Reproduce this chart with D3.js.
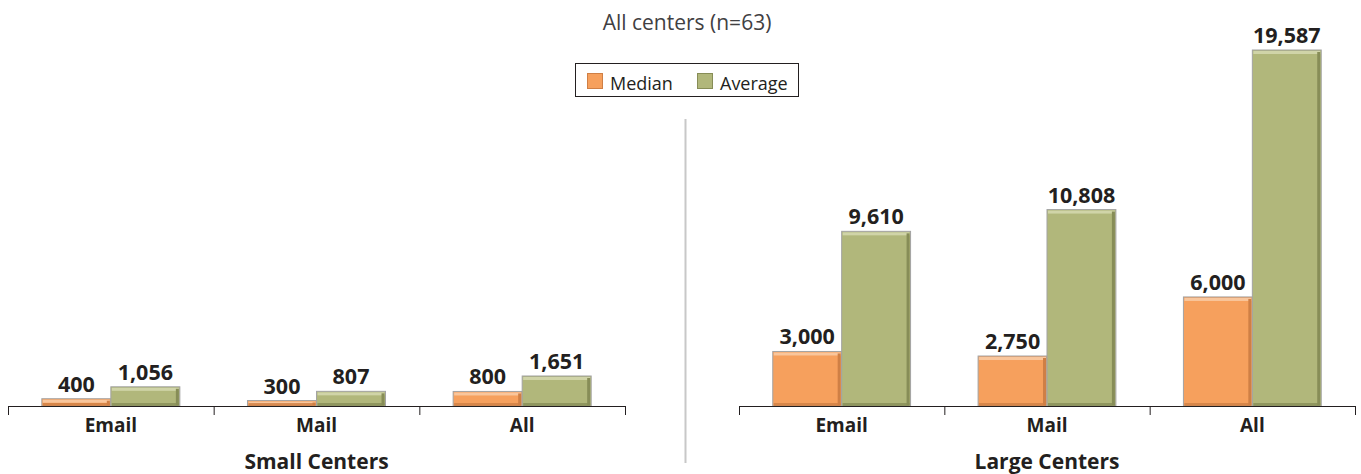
<!DOCTYPE html>
<html>
<head>
<meta charset="utf-8">
<script src="https://cdn.jsdelivr.net/npm/d3@7"></script>
<style>
  body { margin: 0; background: #fff; }
  svg { display: block; }
  text { font-family: "Open Sans", "Noto Sans", sans-serif; fill: #231f20; }
</style>
</head>
<body>
<svg id="chart" width="1361" height="474"></svg>
<script>
'use strict';

// values
const categories = ['Email', 'Mail', 'All'];
const series = ['Median', 'Average'];
const smallMedian = [400, 300, 800];
const smallAverage = [1056, 807, 1651];
const largeMedian = [3000, 2750, 6000];
const largeAverage = [9610, 10808, 19587];
const panelTitles = ['Small Centers', 'Large Centers'];
const subtitle = 'All centers (n=63)';

const colours = {
    'Median': {face: '#f6a05d', light: '#f9c69c', dark: '#cf7f45'},
    'Average': {face: '#b1b77b', light: '#d0d4a8', dark: '#878d57'}
};

const svg = d3.select('#chart');
const baseY = 406;

const y = d3.scaleLinear()
    .domain([0, 19587])
    .range([baseY, 50]);

function rows(medians, averages) {
    return categories.map((c, i) => ({cat: c, Median: medians[i], Average: averages[i]}));
}

function renderPanel(data, x0, x1, title) {

    let x = d3.scaleBand().domain(categories).range([x0, x1]);
    let xSub = d3.scaleBand().domain(series).range([0, x.bandwidth()]).paddingOuter(0.49);

    let g = svg.append('g');

    // bars, grouped by category
    let groups = g.selectAll('g.cat')
        .data(data)
        .enter()
        .append('g')
        .attr('class', 'cat')
        .attr('transform', (d) => `translate(${x(d.cat)},0)`);

    let bars = groups.selectAll('g.bar')
        .data((d) => series.map((s) => ({s: s, v: d[s]})))
        .enter()
        .append('g')
        .attr('class', 'bar');

    bars.append('rect')
        .attr('x', (d) => xSub(d.s))
        .attr('y', (d) => y(d.v))
        .attr('width', xSub.bandwidth())
        .attr('height', (d) => baseY - y(d.v))
        .attr('fill', (d) => colours[d.s].face)
        .attr('stroke', '#a3a3a3')
        .attr('stroke-width', 1);

    // bevel: light top, dark right & bottom
    bars.append('rect')
        .attr('x', (d) => xSub(d.s) + 1)
        .attr('y', (d) => y(d.v) + 1)
        .attr('width', xSub.bandwidth() - 2)
        .attr('height', (d) => Math.min(3, baseY - y(d.v) - 2))
        .attr('fill', (d) => colours[d.s].light);

    bars.append('rect')
        .attr('x', (d) => xSub(d.s) + xSub.bandwidth() - 4)
        .attr('y', (d) => y(d.v) + 2)
        .attr('width', 3)
        .attr('height', (d) => Math.max(0, baseY - y(d.v) - 3))
        .attr('fill', (d) => colours[d.s].dark);

    bars.append('rect')
        .attr('x', (d) => xSub(d.s) + 1)
        .attr('y', (d) => baseY - 3)
        .attr('width', xSub.bandwidth() - 2)
        .attr('height', 3)
        .attr('fill', (d) => colours[d.s].dark)
        .attr('opacity', 0.8);

    // value labels
    bars.append('text')
        .attr('x', (d) => xSub(d.s) + xSub.bandwidth() / 2)
        .attr('y', (d) => y(d.v) - 7)
        .attr('text-anchor', 'middle')
        .style('font-size', '21.5px')
        .style('font-weight', 'bold')
        .text((d) => d3.format(',')(d.v));

    // axis line + boundary ticks
    g.append('line')
        .attr('x1', x0).attr('x2', x1)
        .attr('y1', baseY + 0.5).attr('y2', baseY + 0.5)
        .attr('stroke', '#231f20')
        .attr('stroke-width', 1.2);

    let edges = categories.map((c) => x(c)).concat([x1]);
    g.selectAll('line.tick')
        .data(edges)
        .enter()
        .append('line')
        .attr('class', 'tick')
        .attr('x1', (d) => d + 0.5).attr('x2', (d) => d + 0.5)
        .attr('y1', baseY).attr('y2', baseY + 9)
        .attr('stroke', '#231f20');

    g.selectAll('text.cat')
        .data(categories)
        .enter()
        .append('text')
        .attr('class', 'cat')
        .attr('x', (d) => x(d) + x.bandwidth() / 2)
        .attr('y', 432)
        .attr('text-anchor', 'middle')
        .style('font-size', '19px')
        .style('font-weight', 'bold')
        .text((d) => d);

    g.append('text')
        .attr('x', (x0 + x1) / 2)
        .attr('y', 469)
        .attr('text-anchor', 'middle')
        .style('font-size', '21px')
        .style('font-weight', 'bold')
        .text(title);

    return;
}

// subtitle
svg.append('text')
    .attr('x', 687)
    .attr('y', 30)
    .attr('text-anchor', 'middle')
    .style('font-size', '21px')
    .style('fill', '#414042')
    .text(subtitle);

// legend
let legend = svg.append('g');
legend.append('rect')
    .attr('x', 575.5).attr('y', 63.5)
    .attr('width', 223).attr('height', 33)
    .attr('fill', '#fff')
    .attr('stroke', '#231f20');

let legendX = d3.scalePoint().domain(series).range([587, 697]);
let items = legend.selectAll('g.item')
    .data(series)
    .enter()
    .append('g')
    .attr('class', 'item')
    .attr('transform', (d) => `translate(${legendX(d)},73)`);

items.append('rect')
    .attr('x', 0.5).attr('y', 0.5)
    .attr('width', 15).attr('height', 15)
    .attr('fill', (d) => colours[d].face)
    .attr('stroke', (d) => colours[d].dark);

items.append('text')
    .attr('x', 23)
    .attr('y', 17)
    .style('font-size', '18px')
    .style('fill', '#231f20')
    .text((d) => d);

// divider between panels
svg.append('line')
    .attr('x1', 685.5).attr('x2', 685.5)
    .attr('y1', 119).attr('y2', 463)
    .attr('stroke', '#c8c8c8')
    .attr('stroke-width', 2);

renderPanel(rows(smallMedian, smallAverage), 8, 625, panelTitles[0]);
renderPanel(rows(largeMedian, largeAverage), 739, 1355, panelTitles[1]);
</script>
</body>
</html>
